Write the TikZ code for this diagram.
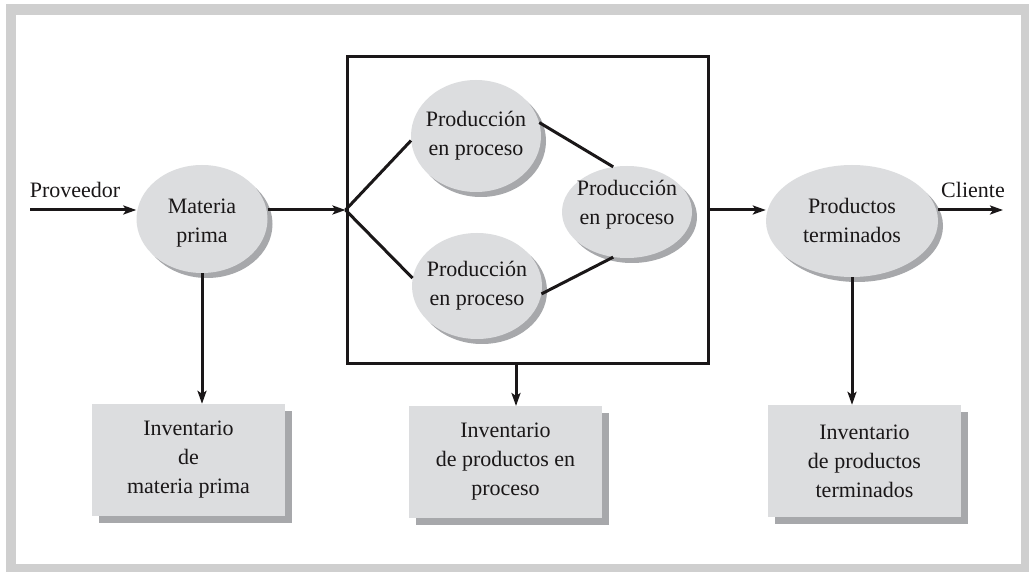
\documentclass[tikz,border=0pt]{standalone}
\usepackage{fontspec}
\setmainfont{Liberation Serif}
\usetikzlibrary{shapes.geometric,shadows,arrows.meta}
\definecolor{boxfill}{HTML}{DCDDDF}
\definecolor{shade}{HTML}{A7A8AB}
\definecolor{frame}{HTML}{CFCFCF}
\definecolor{ink}{HTML}{1A1718}
\begin{document}
\begin{tikzpicture}[x=1pt,y=-1pt,
  every node/.style={text=ink,font=\fontsize{22}{29}\selectfont},
  stage/.style={ellipse,fill=boxfill,inner sep=0pt,
    general shadow={fill=shade,shadow xshift=5pt,shadow yshift=-5pt}},
  stock/.style={rectangle,fill=boxfill,inner sep=0pt,align=center,
    minimum width=193pt,minimum height=112pt,
    general shadow={fill=shade,shadow xshift=7pt,shadow yshift=-7pt}},
  plant/.style={rectangle,draw=ink,line width=3pt,inner sep=0pt,
    minimum width=361pt,minimum height=306pt},
  flow/.style={draw=ink,line width=3pt,-{Stealth[length=13pt,width=9pt,inset=3pt]}},
  link/.style={draw=ink,line width=3pt}]
  % page and grey frame
  \useasboundingbox (0,0) rectangle (1029,572);
  \fill[frame] (6,4) rectangle (1029,572);
  \fill[white] (16,15) rectangle (1021,564);

  % plant with its work-in-process stages
  \node[plant] (proc) at (527.5,210) {};
  \coordinate (hub) at (proc.west);
  \node[stage,minimum width=130pt,minimum height=112pt,
    label={[align=center]center:Producción\\en proceso}] (p1) at (476,136) {};
  \node[stage,minimum width=130pt,minimum height=106pt,
    label={[align=center]center:Producción\\en proceso}] (p2) at (477,286) {};
  \node[stage,minimum width=130pt,minimum height=92pt,
    label={[align=center,yshift=7pt]center:Producción\\en proceso}] (p3) at (627,212) {};

  % raw material and finished goods
  \node[stage,minimum width=131pt,minimum height=108pt,
    label={[align=center,yshift=-4pt]center:Materia\\prima}] (mp) at (202,219) {};
  \node[stage,minimum width=172pt,minimum height=112pt,
    label={[align=center,yshift=1pt]center:Productos\\terminados}] (pt) at (852,221) {};

  % inventories
  \node[stock] (inv1) at (188.5,460) {Inventario\\de\\materia prima};
  \node[stock] (inv2) at (505.5,462) {Inventario\\de productos en\\proceso};
  \node[stock] (inv3) at (864.5,461) {Inventario\\de productos\\terminados};

  % supplier and customer
  \node (prov) at (75,190) {Proveedor};
  \node (cli) at (973,190) {Cliente};
  \coordinate (src) at (30,210);
  \coordinate (dst) at (1003,210);
  \coordinate (t2) at (516,406);

  % material flow
  \draw[flow] (src) -- (mp.west |- src);
  \draw[flow] (mp.east |- hub) -- (hub);
  \draw[flow] (proc.east) -- (pt.west |- proc.east);
  \draw[flow] (pt.east |- dst) -- (dst);

  % routing inside the plant
  \draw[link] (hub) -- (p1.184);
  \draw[link] (hub) -- (p2.173);
  \draw[link] (p1.12) -- (p3.107);
  \draw[link] (p2.353) -- (p3.253);

  % flows into inventory
  \draw[flow] (mp.south) -- (mp.south |- inv1.north);
  \draw[flow] (proc.south -| t2) -- (t2);
  \draw[flow] (pt.south) -- (pt.south |- inv3.north);
\end{tikzpicture}
\end{document}
